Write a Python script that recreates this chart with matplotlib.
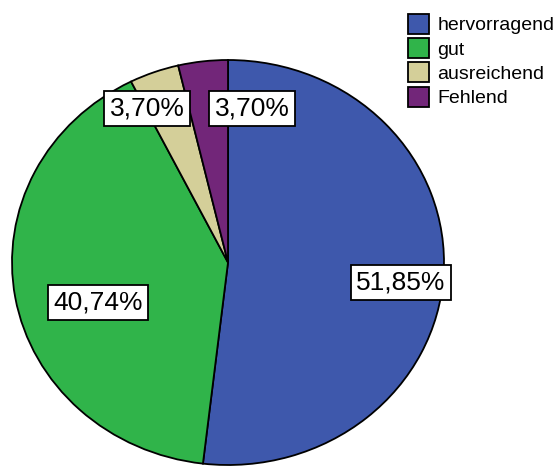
import matplotlib.pyplot as plt
from matplotlib.patches import Patch

categories = ['hervorragend', 'gut', 'ausreichend', 'Fehlend']
counts = [14, 11, 1, 1]
pct_labels = ['51,85%', '40,74%', '3,70%', '3,70%']
colors = ['#3e58ac', '#30b44a', '#d4cf99', '#722679']

# label box positions (axes data coords, pie radius 1)
label_pos = [(0.801, -0.099), (-0.602, -0.198), (-0.375, 0.76), (0.111, 0.76)]

fig = plt.figure(figsize=(5.59, 4.66), dpi=100)
ax = fig.add_axes([12 / 559, 1 / 466, 432 / 559, 405 / 466])

ax.pie(counts, colors=colors, startangle=90, counterclock=False,
       wedgeprops=dict(edgecolor='black', linewidth=1.3))
ax.set_aspect('auto')
ax.set_xlim(-1, 1)
ax.set_ylim(-1, 1)
ax.axis('off')

for txt, (x, y) in zip(pct_labels, label_pos):
    ax.text(x, y, txt, fontsize=19, family='Liberation Sans', ha='center', va='center',
            bbox=dict(boxstyle='square,pad=0.2', facecolor='white',
                      edgecolor='black', linewidth=1.3))

handles = [Patch(facecolor=c, edgecolor='black', linewidth=1.3) for c in colors]
fig.legend(handles, categories, loc='upper left', bbox_to_anchor=(394 / 559, 1.0),
           frameon=False, prop=dict(family='Liberation Sans', size=14),
           handlelength=1.1, handleheight=1.2, handletextpad=0.42,
           labelspacing=0.2, borderaxespad=0.3)

fig.savefig('out.png', dpi=100)
